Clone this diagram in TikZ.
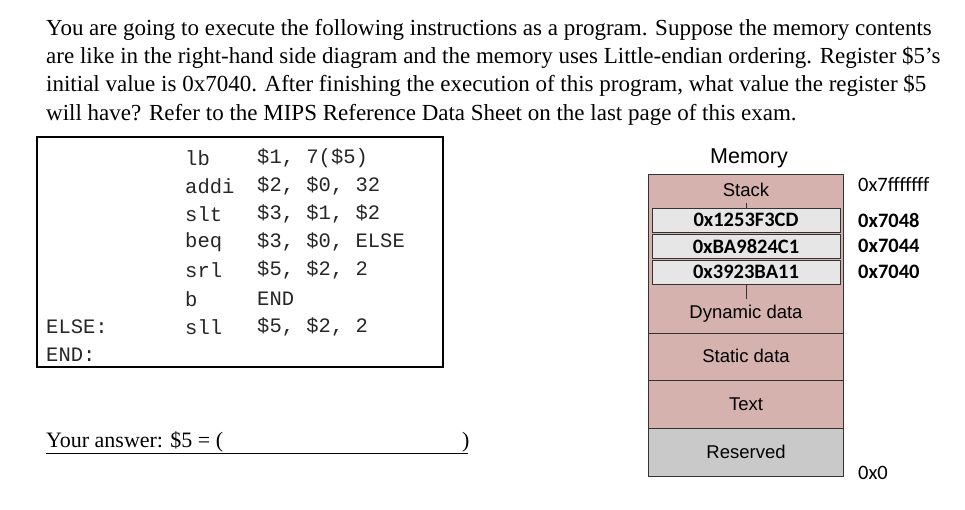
\documentclass[tikz,border=0pt]{standalone}
\usepackage{fontspec}
\setmainfont{Liberation Serif}
\newfontfamily\codef{Liberation Mono}
\newfontfamily\arialf{Liberation Sans}
\newfontfamily\calf{Carlito}
\definecolor{seg}{HTML}{D6B2AE}
\definecolor{res}{HTML}{C9C9C9}
\definecolor{cell}{HTML}{E6E6E6}
\begin{document}
\begin{tikzpicture}[x=1pt,y=-1pt,
  para/.style={anchor=west,inner sep=0,font=\fontsize{23}{26}\selectfont},
  code/.style={anchor=west,inner sep=0,font=\codef\fontsize{20.5}{24}\selectfont,text=black!85},
  seglbl/.style={font=\arialf\fontsize{18.5}{21}\selectfont},
  hexc/.style={font=\calf\bfseries\fontsize{20.5}{23}\selectfont},
  addr/.style={anchor=west,inner sep=0,font=\calf\bfseries\fontsize{20.5}{23}\selectfont}]
\useasboundingbox (0,0) rectangle (965,510);
\fill[white] (0,0) rectangle (965,510);
\node[para] (p1) at (46,30) {You are going to execute the following instructions as a program. Suppose the memory contents};
\node[para] (p2) at (46,58) {are like in the right-hand side diagram and the memory uses Little-endian ordering. Register \$5's};
\node[para] (p3) at (46,86) {initial value is 0x7040. After finishing the execution of this program, what value the register \$5};
\node[para] (p4) at (46,115) {will have? Refer to the MIPS Reference Data Sheet on the last page of this exam.};
% code box
\draw[line width=1.5pt] (37,137) rectangle (443,367);
\node[code] (o1) at (185,158) {lb}; \node[code] (a1) at (257,158) {\$1, 7(\$5)};
\node[code] (o2) at (185,186) {addi}; \node[code] (a2) at (257,186) {\$2, \$0, 32};
\node[code] (o3) at (185,214) {slt}; \node[code] (a3) at (257,214) {\$3, \$1, \$2};
\node[code] (o4) at (185,242) {beq}; \node[code] (a4) at (257,242) {\$3, \$0, ELSE};
\node[code] (o5) at (185,270) {srl}; \node[code] (a5) at (257,270) {\$5, \$2, 2};
\node[code] (o6) at (185,299) {b}; \node[code] (a6) at (257,299) {END};
\node[code] (l7) at (46,327) {ELSE:};
\node[code] (o7) at (185,327) {sll}; \node[code] (a7) at (257,327) {\$5, \$2, 2};
\node[code] (l8) at (46,355) {END:};
% answer
\node[para,font=\fontsize{22}{25}\selectfont] (ans) at (46,442) {Your answer: \$5 = (};
\node[para,font=\fontsize{22}{25}\selectfont] (ansr) at (462,442) {)};
\draw[line width=0.6pt] (46,453) -- (468,453);
% memory
\node[font=\arialf\fontsize{21.5}{24}\selectfont] (mem) at (749,158) {Memory};
\fill[seg] (648,174) rectangle (843,428);
\fill[res] (648,428) rectangle (843,476);
\draw[line width=0.8pt,black!80] (648,174) rectangle (843,476);
\draw[line width=0.8pt,black!80] (648,333) -- (843,333) (648,380) -- (843,380) (648,428) -- (843,428);
\node[seglbl] (stack) at (746,190) {Stack};
\node[draw=black!80,fill=cell,minimum width=188,minimum height=24,inner sep=0,hexc] (c1) at (746,220) {0x1253F3CD};
\node[draw=black!80,fill=cell,minimum width=188,minimum height=24,inner sep=0,hexc] (c2) at (746,246) {0xBA9824C1};
\node[draw=black!80,fill=cell,minimum width=188,minimum height=24,inner sep=0,hexc] (c3) at (746,272) {0x3923BA11};
\node[seglbl] (dyn) at (746,314) {Dynamic data};
\draw[black!80] (746,203) -- (c1.north);
\draw[black!80] (c3.south) -- (746,299);
\node[seglbl] (stat) at (746,356) {Static data};
\node[seglbl] (txt) at (746,404) {Text};
\node[seglbl] (resv) at (746,452) {Reserved};
\node[addr,font=\calf\fontsize{20.5}{23}\selectfont] (ad0) at (858,184) {0x7fffffff};
\node[addr] (ad1) at (858,220) {0x7048};
\node[addr] (ad2) at (858,246) {0x7044};
\node[addr] (ad3) at (858,272) {0x7040};
\node[addr,font=\calf\fontsize{20.5}{23}\selectfont] (ad4) at (858,473) {0x0};
\end{tikzpicture}
\end{document}
